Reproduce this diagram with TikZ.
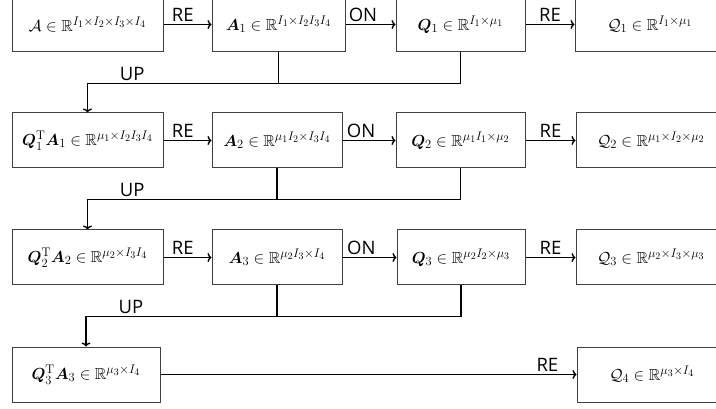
\documentclass[tikz,border=0pt]{standalone}
\usepackage{fix-cm}
\usepackage{amsmath,amssymb,bm}
\usepackage{fontspec}
\usetikzlibrary{arrows.meta}
\newfontfamily\lblfont{Open Sans}
\DeclareMathSizes{16}{16}{12.5}{10}
\begin{document}
\begin{tikzpicture}[x=1pt,y=-1pt,
	box/.style={draw=black!75,line width=1pt,rectangle,minimum height=55pt,inner sep=2pt,font=\fontsize{16}{19}\selectfont},
	lbl/.style={font=\lblfont\fontsize{18.5}{20}\selectfont,inner sep=2.5pt},
	conn/.style={line width=1.4pt,-{To[length=4pt,width=9pt]}},
	wire/.style={line width=1.4pt}]

	\useasboundingbox (0,0) rectangle (716,409);

	% row 1
	\node[box,minimum width=151pt] (A) at (87.5,24.5) {$\mathcal{A}\in\mathbb{R}^{I_1\times I_2\times I_3\times I_4}$};
	\node[box,minimum width=133pt] (A1) at (278.5,24.5) {$\bm{A}_1\in\mathbb{R}^{I_1\times I_2I_3I_4}$};
	\node[box,minimum width=129pt] (Q1) at (460.5,24.5) {$\bm{Q}_1\in\mathbb{R}^{I_1\times \mu_1}$};
	\node[box,minimum width=150pt] (cQ1) at (650,24.5) {$\mathcal{Q}_1\in\mathbb{R}^{I_1\times \mu_1}$};

	% row 2
	\node[box,minimum width=151pt] (B1) at (87.5,140.5) {$\bm{Q}_1^{\mathrm{T}}\bm{A}_1\in\mathbb{R}^{\mu_1\times I_2I_3I_4}$};
	\node[box,minimum width=130pt] (A2) at (277,140.5) {$\bm{A}_2\in\mathbb{R}^{\mu_1I_2\times I_3I_4}$};
	\node[box,minimum width=129pt] (Q2) at (460.5,140.5) {$\bm{Q}_2\in\mathbb{R}^{\mu_1I_1\times \mu_2}$};
	\node[box,minimum width=150pt] (cQ2) at (651,140.5) {$\mathcal{Q}_2\in\mathbb{R}^{\mu_1\times I_2\times \mu_2}$};

	% row 3
	\node[box,minimum width=151pt] (B2) at (87.5,257.5) {$\bm{Q}_2^{\mathrm{T}}\bm{A}_2\in\mathbb{R}^{\mu_2\times I_3I_4}$};
	\node[box,minimum width=130pt] (A3) at (277,257.5) {$\bm{A}_3\in\mathbb{R}^{\mu_2I_3\times I_4}$};
	\node[box,minimum width=128pt] (Q3) at (461,257.5) {$\bm{Q}_3\in\mathbb{R}^{\mu_2I_2\times \mu_3}$};
	\node[box,minimum width=150pt] (cQ3) at (651,257.5) {$\mathcal{Q}_3\in\mathbb{R}^{\mu_2\times I_3\times \mu_3}$};

	% row 4
	\node[box,minimum width=148pt] (B3) at (86,374.5) {$\bm{Q}_3^{\mathrm{T}}\bm{A}_3\in\mathbb{R}^{\mu_3\times I_4}$};
	\node[box,minimum width=150pt] (cQ4) at (652,374.5) {$\mathcal{Q}_4\in\mathbb{R}^{\mu_3\times I_4}$};

	\draw[conn] (A) -- node[lbl,above,pos=.4] {RE} (A1);
	\draw[conn] (A1) -- node[lbl,above,pos=.35] {ON} (Q1);
	\draw[conn] (Q1) -- node[lbl,above] {RE} (cQ1);

	\draw[conn] (B1) -- node[lbl,above,pos=.4] {RE} (A2);
	\draw[conn] (A2) -- node[lbl,above,pos=.35] {ON} (Q2);
	\draw[conn] (Q2) -- node[lbl,above] {RE} (cQ2);

	\draw[conn] (B2) -- node[lbl,above,pos=.4] {RE} (A3);
	\draw[conn] (A3) -- node[lbl,above,pos=.35] {ON} (Q3);
	\draw[conn] (Q3) -- node[lbl,above] {RE} (cQ3);

	\draw[conn] (B3) -- node[lbl,above,pos=.93] {RE} (cQ4);

	% UP feedback
	\draw[wire] (A1.south) -- ++(0,31);
	\draw[conn] (Q1.south) -- ++(0,31) -| node[lbl,above,pos=.44] {UP} (B1.north);
	\draw[wire] (A2.south) -- ++(0,31);
	\draw[conn] (Q2.south) -- ++(0,31) -| node[lbl,above,pos=.44] {UP} (B2.north);
	\draw[wire] (A3.south) -- ++(0,31);
	\draw[conn] (Q3.south) -- ++(0,31) -| node[lbl,above,pos=.44] {UP} (B3.north);

\end{tikzpicture}
\end{document}
